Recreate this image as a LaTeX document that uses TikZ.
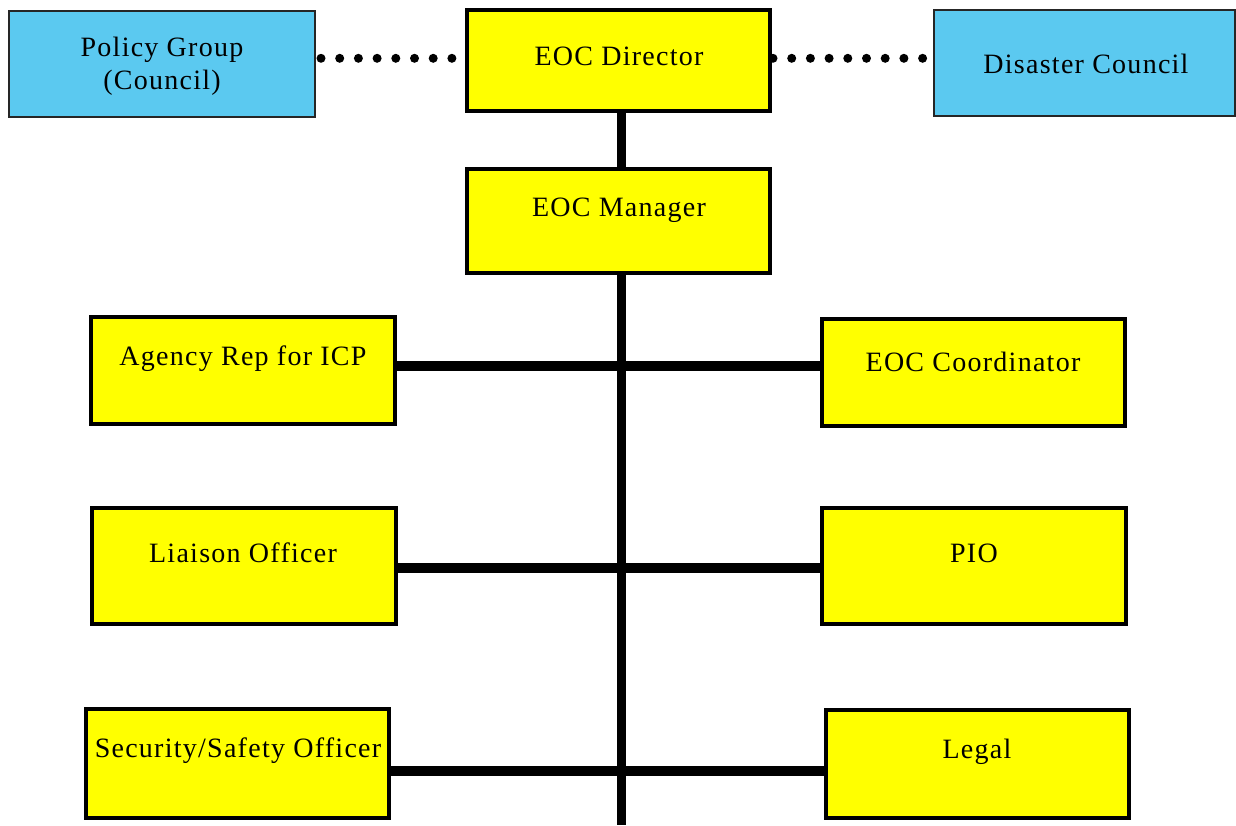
\documentclass[tikz,border=0pt]{standalone}
\usepackage{fontspec}
\setmainfont{Liberation Serif}[LetterSpace=4.5]
\definecolor{boxyellow}{HTML}{FFFF00}
\definecolor{boxblue}{HTML}{5BC9F0}
\begin{document}
\begin{tikzpicture}[x=0.5pt,y=-0.5pt,
  ybox/.style={draw=black, fill=boxyellow, line width=2pt, inner sep=0pt},
  bbox/.style={draw=black!85, fill=boxblue, line width=1pt, inner sep=0pt},
  lbl/.style={font=\fontsize{14}{16.5}\selectfont, align=center, inner sep=0pt},
  trunk/.style={line width=4.2pt},
  branch/.style={line width=5pt},
  dotline/.style={line width=4.5pt, line cap=round, dash pattern=on 0pt off 9.35pt}
]
\useasboundingbox (0,0) rectangle (1236,825);
% boxes
\node[bbox, minimum width=153pt, minimum height=53pt] (policy) at (162,64) {};
\node[ybox, minimum width=151.5pt, minimum height=50.5pt] (director) at (618.5,60.5) {};
\node[bbox, minimum width=150.5pt, minimum height=53pt] (council) at (1084.5,63) {};
\node[ybox, minimum width=151.5pt, minimum height=52pt] (manager) at (618.5,221) {};
\node[ybox, minimum width=152pt, minimum height=53.5pt] (agency) at (243,370.5) {};
\node[ybox, minimum width=151.5pt, minimum height=53.5pt] (coord) at (973.5,372.5) {};
\node[ybox, minimum width=152pt, minimum height=58pt] (liaison) at (244,566) {};
\node[ybox, minimum width=152pt, minimum height=58pt] (pio) at (974,566) {};
\node[ybox, minimum width=151.5pt, minimum height=54.5pt] (security) at (237.5,763.5) {};
\node[ybox, minimum width=151.5pt, minimum height=54pt] (legal) at (977.5,764) {};
% labels
\node[lbl] (policyT) at (162,66) {Policy Group\\(Council)};
\node[lbl] (directorT) at (619,56) {EOC Director};
\node[lbl] (councilT) at (1086,64) {Disaster Council};
\node[lbl] (managerT) at (619,210) {EOC Manager};
\node[lbl] (agencyT) at (243,359) {Agency Rep for ICP};
\node[lbl] (coordT) at (973,362) {EOC Coordinator};
\node[lbl] (liaisonT) at (243,553) {Liaison Officer};
\node[lbl] (pioT) at (974,553) {PIO};
\node[lbl] (securityT) at (238,751) {Security/Safety Officer};
\node[lbl] (legalT) at (977,752) {Legal};
% trunk coordinates
\coordinate (t0) at (621.5,113);
\coordinate (t1) at (621.5,366);
\coordinate (t2) at (621.5,568);
\coordinate (t3) at (621.5,771);
\coordinate (tend) at (621.5,825);
\coordinate (drow) at (0,58.3);
% connectors
\draw[trunk] (director.south -| t0) -- (manager.north -| t0);
\draw[trunk] (manager.south -| t0) -- (tend);
\draw[branch] (agency.east |- t1) -- (coord.west |- t1);
\draw[branch] (liaison.east |- t2) -- (pio.west |- t2);
\draw[branch] (security.east |- t3) -- (legal.west |- t3);
% dotted links
\path ([xshift=2.5pt]policy.east) coordinate (pe);
\path ([xshift=0.5pt]director.east) coordinate (de);
\draw[dotline] (pe |- drow) -- (director.west |- drow);
\draw[dotline] (de |- drow) -- (council.west |- drow);
\end{tikzpicture}
\end{document}
